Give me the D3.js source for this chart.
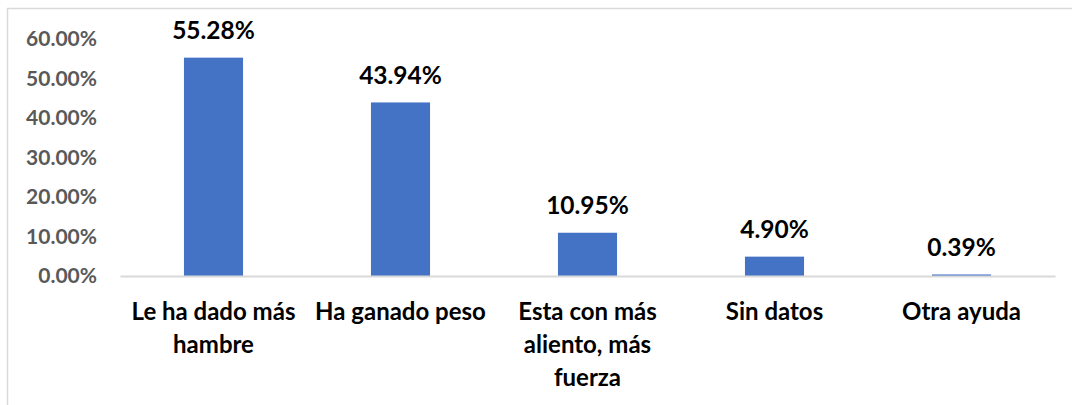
<!DOCTYPE html>
<html><head><meta charset="utf-8">
<script src="https://cdn.jsdelivr.net/npm/d3@7"></script>
<style>
html,body{margin:0;padding:0;background:#fff;}
text{font-family:Lato,"Open Sans",sans-serif;font-weight:bold;}
</style></head>
<body><svg id="c" width="1072" height="405"></svg>
<script>
const categories = ["Le ha dado más hambre", "Ha ganado peso", "Esta con más aliento, más fuerza", "Sin datos", "Otra ayuda"];
const values = [55.28, 43.94, 10.95, 4.90, 0.39];
const yTicks = [0, 10, 20, 30, 40, 50, 60];

const svg = d3.select("#c");
// outer chart frame
svg.append("path").attr("d", "M7.5,405 V8.5 H1072").attr("fill","none").attr("stroke","#d9d9d9").attr("stroke-width",1.5);

const x = d3.scaleBand().domain(categories).range([120, 1055]).paddingInner(0.684).paddingOuter(0.342);
const y = d3.scaleLinear().domain([0, 60]).range([276, 39]);

// y axis labels
const yAxis = d3.axisLeft(y).tickValues(yTicks).tickFormat(d => d.toFixed(2) + "%").tickSize(0).tickPadding(0);
const gy = svg.append("g").attr("transform", "translate(97,0)").call(yAxis);
gy.select(".domain").remove();
gy.selectAll("text").attr("fill", "#595959").style("font-size", "21px").style("font-family","Lato").style("font-weight","bold");

// bars
svg.append("g").selectAll("rect").data(values).join("rect")
  .attr("x", (d,i) => x(categories[i]))
  .attr("width", x.bandwidth())
  .attr("y", d => y(d))
  .attr("height", d => y(0) - y(d))
  .attr("fill", "#4472c4");

// baseline
const xAxis = d3.axisBottom(x).tickSize(0).tickFormat("");
const gx = svg.append("g").attr("transform", "translate(0,276)").call(xAxis);
gx.select(".domain").attr("stroke", "#d9d9d9").attr("stroke-width", 2);

// value labels
svg.append("g").selectAll("text").data(values).join("text")
  .attr("x", (d,i) => x(categories[i]) + x.bandwidth()/2)
  .attr("y", d => y(d) - 27)
  .attr("dy", "0.35em")
  .attr("text-anchor", "middle")
  .style("font-size", "24.5px")
  .attr("fill", "#000")
  .text(d => d.toFixed(2) + "%");

// category labels with wrapping
const fs = "24px";
const maxW = 186;
const lab = svg.append("g");
categories.forEach((c, i) => {
  const t = lab.append("text").attr("text-anchor","middle").attr("fill","#000").style("font-size",fs)
    .attr("x", x(c) + x.bandwidth()/2);
  const words = c.split(" ");
  let lines = [], cur = [];
  const probe = svg.append("text").style("font-size",fs);
  words.forEach(w => {
    const test = cur.concat([w]).join(" ");
    probe.text(test);
    if (probe.node().getComputedTextLength() > maxW && cur.length) { lines.push(cur.join(" ")); cur = [w]; }
    else cur.push(w);
  });
  lines.push(cur.join(" "));
  probe.remove();
  lines.forEach((l, k) => t.append("tspan").attr("x", x(c) + x.bandwidth()/2).attr("y", 312 + k*33).attr("dy","0.35em").text(l));
});
</script></body></html>
